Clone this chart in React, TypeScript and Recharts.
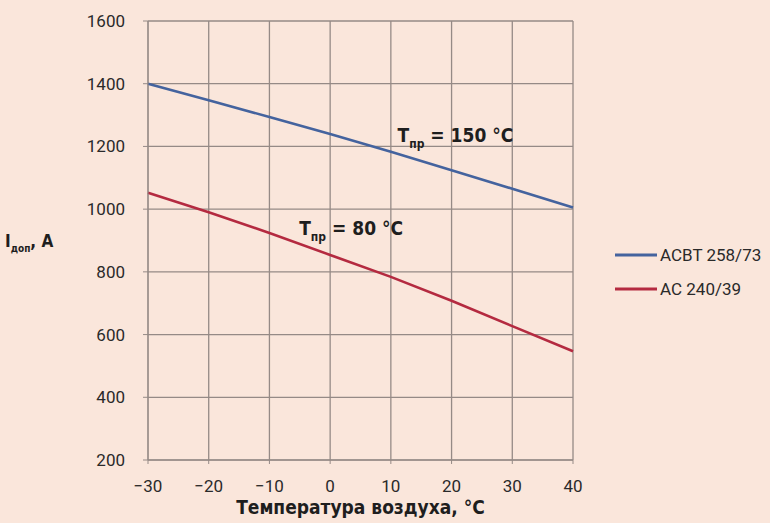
import React from 'react';
import { LineChart, Line, XAxis, YAxis, CartesianGrid, ReferenceDot } from 'recharts';

// air temperature, °C
const temps = [-30, -20, -10, 0, 10, 20, 30, 40];
// allowable current, A
const acvtValues = [1400, 1347, 1294, 1240, 1183, 1124, 1065, 1005];
const acValues = [1052, 990, 924, 854, 784, 708, 627, 547];

const seriesNames = ['ACBT 258/73', 'AC 240/39'];
const seriesColors = ['#44639e', '#b42a40'];

const xTicks = [-30, -20, -10, 0, 10, 20, 30, 40];
const yTicks = [200, 400, 600, 800, 1000, 1200, 1400, 1600];

const xTitle = 'Температура воздуха, °C';

const data = temps.map((t, i) => ({ t, acvt: acvtValues[i], ac: acValues[i] }));

const boldFont = "'DejaVu Sans Condensed', 'Liberation Sans Narrow', Roboto, sans-serif";
const tickFont = 'Roboto, sans-serif';

const annoLabel = (temp: string) => (props: any) => {
    const { viewBox } = props;
    return (
        <text x={viewBox.x} y={viewBox.y} fontFamily={boldFont} fontWeight="bold" fontSize={19} fill="#1e1e1e">
            <tspan>T</tspan>
            <tspan fontSize={12} dy={6}>пр</tspan>
            <tspan dy={-6}>{` = ${temp} °C`}</tspan>
        </text>
    );
};

const yLabel = () => (
    <text x={5} y={247} fontFamily={boldFont} fontWeight="bold" fontSize={17} fill="#1e1e1e">
        <tspan>I</tspan>
        <tspan fontSize={10} dy={5}>доп</tspan>
        <tspan dy={-5}>, A</tspan>
    </text>
);

const minus = (v: number) => String(v).replace('-', '\u2212');

export default function App() {
    return (
        <div style={{ position: 'absolute', left: 0, top: 0, width: 770, height: 523, background: '#fae6db' }}>
            <LineChart width={770} height={523} data={data} margin={{ top: 21, right: 197, bottom: 8, left: 0 }}>
                <CartesianGrid stroke="#958a86" strokeWidth={1.3} />
                <XAxis
                    dataKey="t"
                    type="number"
                    domain={[-30, 40]}
                    ticks={xTicks}
                    interval={0}
                    tickFormatter={minus}
                    height={55}
                    tickSize={4}
                    tickMargin={16}
                    stroke="#958a86"
                    tick={{ fill: '#2a2a2a', fontSize: 17, fontFamily: tickFont }}
                    label={{ value: xTitle, position: 'insideBottom', offset: 1, fill: '#1e1e1e', fontSize: 19, fontWeight: 'bold', fontFamily: boldFont }}
                />
                <YAxis
                    type="number"
                    domain={[200, 1600]}
                    ticks={yTicks}
                    interval={0}
                    width={148}
                    tickSize={5}
                    tickMargin={18}
                    stroke="#958a86"
                    tick={{ fill: '#2a2a2a', fontSize: 17, fontFamily: tickFont }}
                    label={yLabel}
                />
                <Line dataKey="acvt" name={seriesNames[0]} stroke={seriesColors[0]} strokeWidth={2.6} dot={false} isAnimationActive={false} />
                <Line dataKey="ac" name={seriesNames[1]} stroke={seriesColors[1]} strokeWidth={2.6} dot={false} isAnimationActive={false} />
                <ReferenceDot x={11.1} y={1215} r={0} stroke="none" fill="none" label={annoLabel('150')} />
                <ReferenceDot x={-5.1} y={917} r={0} stroke="none" fill="none" label={annoLabel('80')} />
            </LineChart>
            <div style={{ position: 'absolute', left: 615, top: 238, fontFamily: tickFont, fontSize: 17, color: '#2a2a2a' }}>
                {seriesNames.map((name, i) => (
                    <div key={name} style={{ display: 'flex', alignItems: 'center', height: 34 }}>
                        <svg width={45} height={6}>
                            <line x1={0} y1={3} x2={42} y2={3} stroke={seriesColors[i]} strokeWidth={3} />
                        </svg>
                        <span>{name}</span>
                    </div>
                ))}
            </div>
        </div>
    );
}
